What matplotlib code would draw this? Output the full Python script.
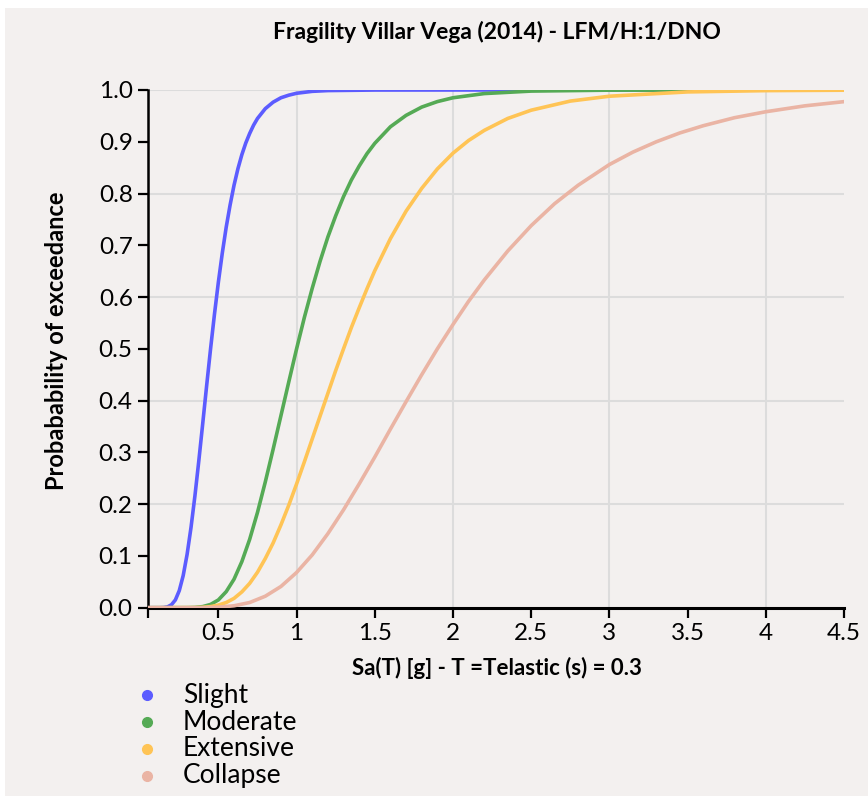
import matplotlib.pyplot as plt
from matplotlib.patches import Rectangle

plt.rcParams['font.family'] = ['Lato', 'DejaVu Sans']

# values
slight_x = [0.05, 0.125, 0.15, 0.175, 0.2, 0.225, 0.25, 0.275, 0.3, 0.325, 0.35, 0.375, 0.4, 0.425,
            0.45, 0.475, 0.5, 0.525, 0.55, 0.575, 0.6, 0.625, 0.65, 0.675, 0.7, 0.725, 0.75, 0.8,
            0.85, 0.9, 0.95, 1.0, 1.1, 1.2, 1.5, 2.0, 4.5]
slight_y = [0.0, 0.0, 0.0003, 0.0016, 0.0057, 0.015, 0.033, 0.062, 0.103, 0.155, 0.216, 0.284, 0.356,
            0.429, 0.5, 0.567, 0.629, 0.685, 0.735, 0.778, 0.816, 0.848, 0.875, 0.8975, 0.916, 0.932,
            0.945, 0.964, 0.9765, 0.985, 0.990, 0.9937, 0.9974, 0.9989, 0.9999, 1.0, 1.0]

moderate_x = [0.05, 0.3, 0.35, 0.4, 0.45, 0.5, 0.55, 0.6, 0.65, 0.7, 0.75, 0.8, 0.85, 0.9, 0.95,
              1.0, 1.05, 1.1, 1.15, 1.2, 1.25, 1.3, 1.35, 1.4, 1.45, 1.5, 1.6, 1.7, 1.8, 1.9,
              2.0, 2.2, 2.5, 3.0, 4.5]
moderate_y = [0.0, 0.0001, 0.0005, 0.0021, 0.0063, 0.015, 0.031, 0.055, 0.089, 0.132, 0.184, 0.243,
              0.306, 0.371, 0.436, 0.5, 0.561, 0.617, 0.669, 0.716, 0.757, 0.794, 0.826, 0.853,
              0.877, 0.897, 0.929, 0.951, 0.967, 0.9776, 0.985, 0.9931, 0.9979, 0.9997, 1.0]

extensive_x = [0.05, 0.35, 0.4, 0.45, 0.5, 0.55, 0.6, 0.65, 0.7, 0.75, 0.8, 0.85, 0.9, 0.95, 1.0,
               1.05, 1.1, 1.15, 1.2, 1.25, 1.3, 1.35, 1.4, 1.45, 1.5, 1.6, 1.7, 1.8, 1.9, 2.0, 2.1,
               2.2, 2.35, 2.5, 2.75, 3.0, 3.5, 4.0, 4.5]
extensive_y = [0.0, 0.0002, 0.0007, 0.0021, 0.005, 0.010, 0.018, 0.0305, 0.047, 0.0685, 0.095, 0.125,
               0.160, 0.198, 0.239, 0.282, 0.326, 0.370, 0.414, 0.458, 0.5, 0.541, 0.579, 0.616,
               0.651, 0.713, 0.766, 0.810, 0.8475, 0.878, 0.9025, 0.922, 0.945, 0.961, 0.9786,
               0.988, 0.9963, 0.9988, 0.9996]

collapse_x = [0.05, 0.4, 0.5, 0.6, 0.7, 0.8, 0.9, 1.0, 1.1, 1.2, 1.3, 1.4, 1.5, 1.6, 1.7, 1.8, 1.9,
              2.0, 2.1, 2.2, 2.35, 2.5, 2.65, 2.8, 3.0, 3.15, 3.3, 3.45, 3.6, 3.8, 4.0, 4.25, 4.5]
collapse_y = [0.0, 0.0001, 0.001, 0.0037, 0.010, 0.0222, 0.041, 0.068, 0.102, 0.143, 0.189, 0.239,
              0.291, 0.345, 0.398, 0.450, 0.5, 0.547, 0.592, 0.633, 0.689, 0.738, 0.7805, 0.816,
              0.856, 0.880, 0.900, 0.917, 0.931, 0.9465, 0.958, 0.9694, 0.9775]

labels = ['Slight', 'Moderate', 'Extensive', 'Collapse']
colors = ['#5c5cff', '#55aa55', '#ffc455', '#eab4a4']

bg = '#f3f0ef'
fig = plt.figure(figsize=(8.68, 7.96), dpi=100, facecolor='white')
fig.patches.append(Rectangle((5 / 868, 0), 1, 1 - 8 / 796, transform=fig.transFigure,
                             facecolor=bg, edgecolor='none', zorder=-10))

ax = fig.add_axes([148 / 868, 1 - 607.7 / 796, (844 - 148) / 868, (607.7 - 90) / 796])
ax.set_facecolor(bg)

series = [(slight_x, slight_y), (moderate_x, moderate_y), (extensive_x, extensive_y), (collapse_x, collapse_y)]
for (xs, ys), c in zip(series, colors):
    ax.plot(xs, ys, color=c, lw=2.6, solid_capstyle='round', solid_joinstyle='round', zorder=3)

ax.set_xlim(0.05, 4.5)
ax.set_ylim(0, 1)
ax.set_xticks([0.05, 0.5, 1, 1.5, 2, 2.5, 3, 3.5, 4, 4.5])
ax.set_xticklabels(['', '0.5', '1', '1.5', '2', '2.5', '3', '3.5', '4', '4.5'])
ax.set_yticks([i / 10 for i in range(11)])
ax.set_yticklabels(['%.1f' % (i / 10) for i in range(11)])
ax.tick_params(length=7, width=1.6, color='black', labelsize=17.5, pad=4)

for x in [1, 2, 3, 4]:
    ax.axvline(x, color='#dcdcdc', lw=1.5, zorder=1)
for y in [0.2, 0.4, 0.6, 0.8, 1.0]:
    ax.axhline(y, color='#dcdcdc', lw=1.5, zorder=1)

for s in ['top', 'right']:
    ax.spines[s].set_visible(False)
ax.spines['left'].set_linewidth(1.8)
ax.spines['bottom'].set_linewidth(2.2)

fig.text(497 / 868, 1 - 32 / 796, 'Fragility Villar Vega (2014) - LFM/H:1/DNO',
         ha='center', va='center', fontsize=16.5, fontweight='bold')
fig.text(497 / 868, 1 - 668 / 796, 'Sa(T) [g] - T =Telastic (s) = 0.3',
         ha='center', va='center', fontsize=16, fontweight='bold')
fig.text(57 / 868, 1 - 341 / 796, 'Probabability of exceedance', rotation=90,
         ha='center', va='center', fontsize=17, fontweight='bold')

for i, (lab, c) in enumerate(zip(labels, colors)):
    yy = 1 - (695 + 27 * i) / 796
    fig.add_artist(plt.Line2D([147 / 868], [yy], marker='o', markersize=7, color=c,
                              transform=fig.transFigure))
    fig.text(183 / 868, yy, lab, ha='left', va='center', fontsize=19)

fig.savefig('out.png', dpi=100, facecolor=fig.get_facecolor())
